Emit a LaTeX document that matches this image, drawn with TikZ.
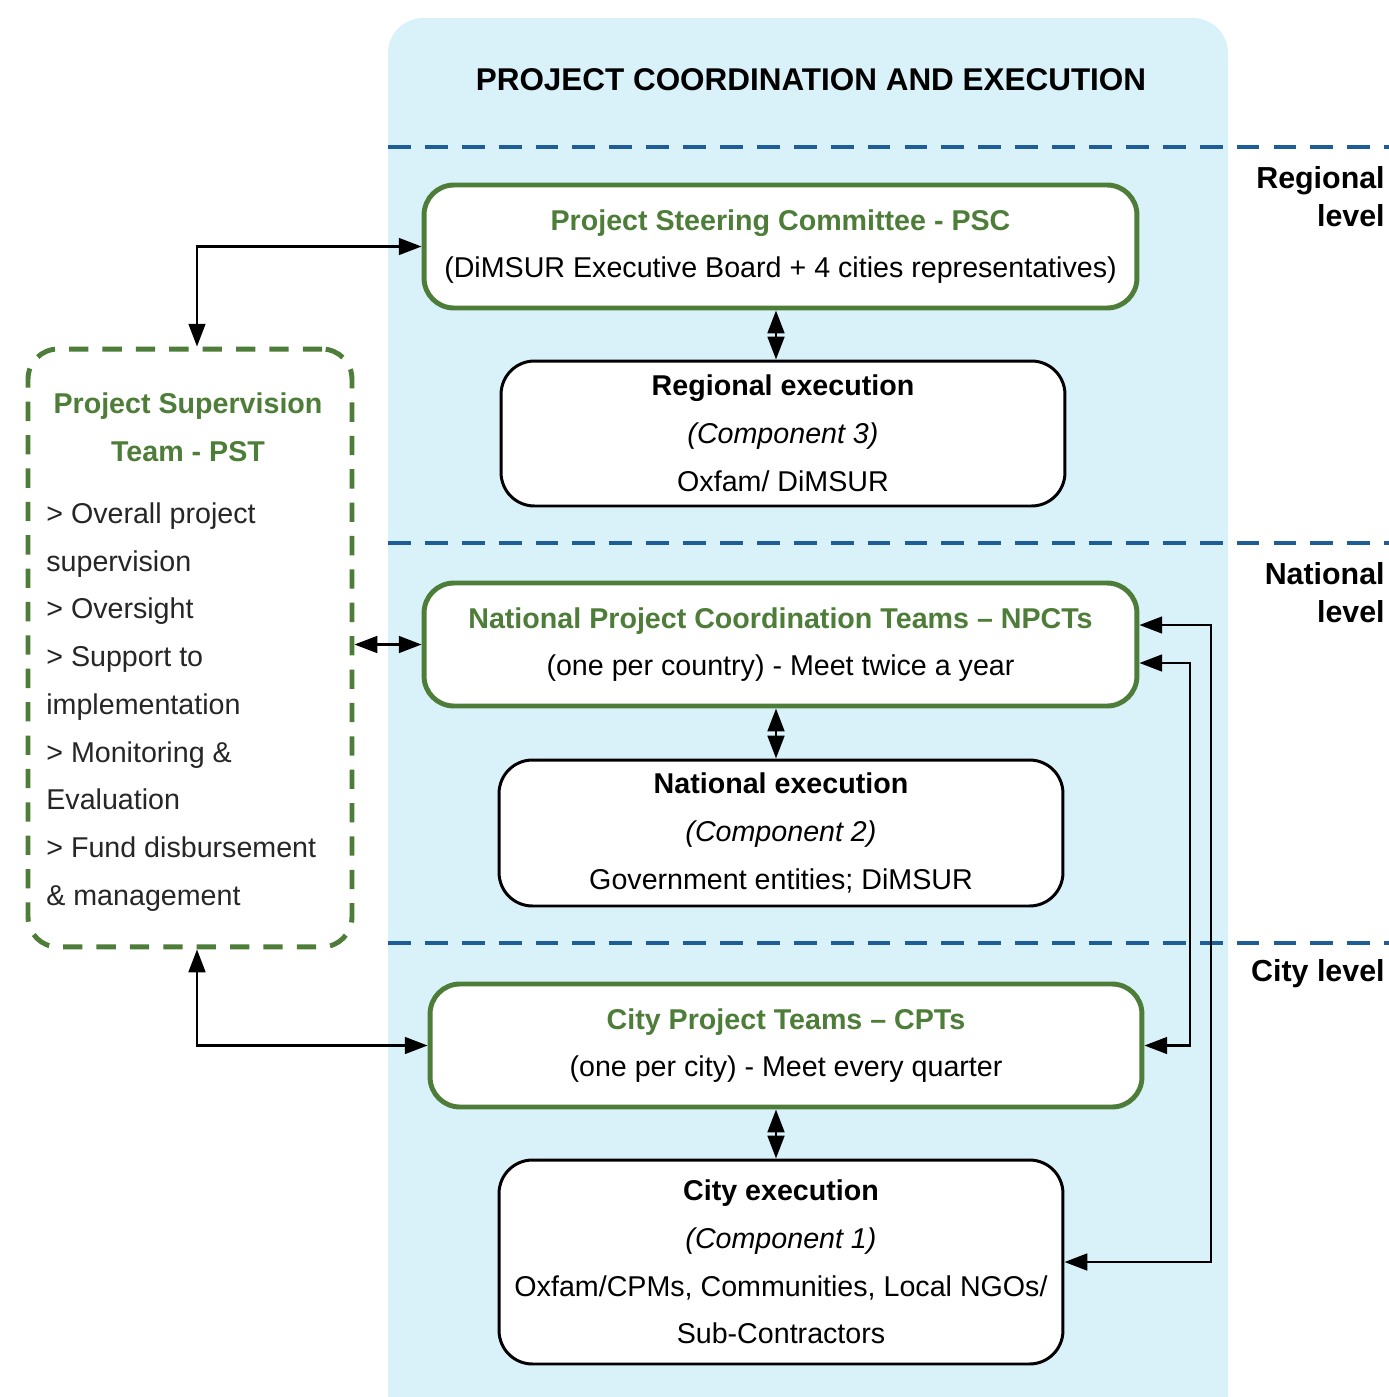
\documentclass[tikz,border=0pt]{standalone}
\usepackage{fontspec}
\setmainfont{Liberation Sans}
\usetikzlibrary{arrows.meta}
\definecolor{pgreen}{RGB}{77,125,56}
\definecolor{pblue}{RGB}{31,93,150}
\definecolor{pbg}{RGB}{217,241,249}
\tikzstyle{board}=[rectangle,rounded corners=17pt,draw=pgreen,line width=2.8pt,fill=white,align=center,font=\fontsize{16.3}{27.2}\selectfont]
\tikzstyle{exec}=[rectangle,rounded corners=19pt,draw=black,line width=1.7pt,fill=white,align=center,font=\fontsize{16.3}{27.2}\selectfont]
\tikzstyle{level}=[anchor=east,align=right,font=\bfseries\fontsize{17.3}{21.5}\selectfont]
\tikzstyle{link}=[line width=1.5pt,{Triangle[length=13pt,width=9.5pt]}-{Triangle[length=13pt,width=9.5pt]}]
\tikzstyle{sep}=[draw=pblue,line width=2.8pt,dash pattern=on 13pt off 8pt]

\begin{document}
\begin{tikzpicture}[x=0.02cm,y=-0.02cm,inner sep=0pt]
  \useasboundingbox (0,0) rectangle (1389,1397);
  % background of the coordination column
  \fill[pbg] (388,1397) [rounded corners=20pt] -- (388,18) -- (1228,18)
    [sharp corners] -- (1228,1397) -- cycle;
  \node[font=\bfseries\fontsize{17.9}{21}\selectfont] (title) at (811,80)
    {PROJECT COORDINATION AND EXECUTION};

  \foreach \y in {147,543,943} {
    \draw[sep] (388,\y) -- (1389,\y);
  }
  \node[level] (regional) at (1385,197) {Regional\\level};
  \node[level] (national) at (1385,593) {National\\level};
  \node[level] (city) at (1385,974) {City level};

  \node[board,minimum width=14.26cm,minimum height=2.46cm] (psc) at (780.5,246.5)
    {\textcolor{pgreen}{\textbf{Project Steering Committee - PSC}}\\
     (DiMSUR Executive Board + 4 cities representatives)};
  \node[exec,minimum width=11.28cm,minimum height=2.9cm] (regional exec) at (783,433.5)
    {\textbf{Regional execution}\\ \textit{(Component 3)}\\ Oxfam/ DiMSUR};

  \node[board,minimum width=14.26cm,minimum height=2.46cm] (npct) at (780.5,644.5)
    {\textcolor{pgreen}{\textbf{National Project Coordination Teams – NPCTs}}\\
     (one per country) - Meet twice a year};
  \node[exec,minimum width=11.28cm,minimum height=2.92cm] (national exec) at (781,833)
    {\textbf{National execution}\\ \textit{(Component 2)}\\ Government entities; DiMSUR};

  \node[board,minimum width=14.24cm,minimum height=2.46cm] (cpt) at (786,1045.5)
    {\textcolor{pgreen}{\textbf{City Project Teams – CPTs}}\\
     (one per city) - Meet every quarter};
  \node[exec,minimum width=11.28cm,minimum height=4.08cm] (city exec) at (781,1262)
    {\textbf{City execution}\\ \textit{(Component 1)}\\
     Oxfam/CPMs, Communities, Local NGOs/\\ Sub-Contractors};

  \node[rectangle,rounded corners=17pt,draw=pgreen,line width=2.8pt,
    dash pattern=on 11pt off 8pt,fill=white,minimum width=6.48cm,
    minimum height=11.96cm] (pst) at (190,648) {};
  \node[align=center,text=pgreen,font=\bfseries\fontsize{16.3}{27.2}\selectfont]
    (pst title) at (188,427) {Project Supervision\\Team - PST};
  \node[anchor=west,align=left,text=black!85,font=\fontsize{16.3}{27.2}\selectfont]
    (pst list) at (46,707)
    {> Overall project\\ supervision\\ > Oversight\\ > Support to\\
     implementation\\ > Monitoring \&\\ Evaluation\\ > Fund disbursement\\
     \& management};

  % links
  \draw[link] ([xshift=-0.09cm]psc.south) -- ([xshift=-0.09cm]psc.south |- regional exec.north);
  \draw[link] ([xshift=-0.09cm]npct.south) -- ([xshift=-0.09cm]npct.south |- national exec.north);
  \draw[link] ([xshift=-0.2cm]cpt.south) -- ([xshift=-0.2cm]cpt.south |- city exec.north);

  \draw[link] ([xshift=0.14cm]pst.north) |- (psc.west);
  \draw[link] (npct.west -| pst.east) -- (npct.west);
  \draw[link] ([xshift=0.14cm]pst.south) |- (cpt.west);

  \coordinate (npct upper) at ([yshift=0.39cm]npct.east);
  \coordinate (npct lower) at ([yshift=-0.37cm]npct.east);
  \coordinate (bus outer) at (1211,0);
  \coordinate (bus inner) at (1190,0);
  \draw[link] (npct upper) -- (npct upper -| bus outer) |- (city exec.east);
  \draw[link] (npct lower) -- (npct lower -| bus inner) |- (cpt.east);
\end{tikzpicture}
\end{document}
